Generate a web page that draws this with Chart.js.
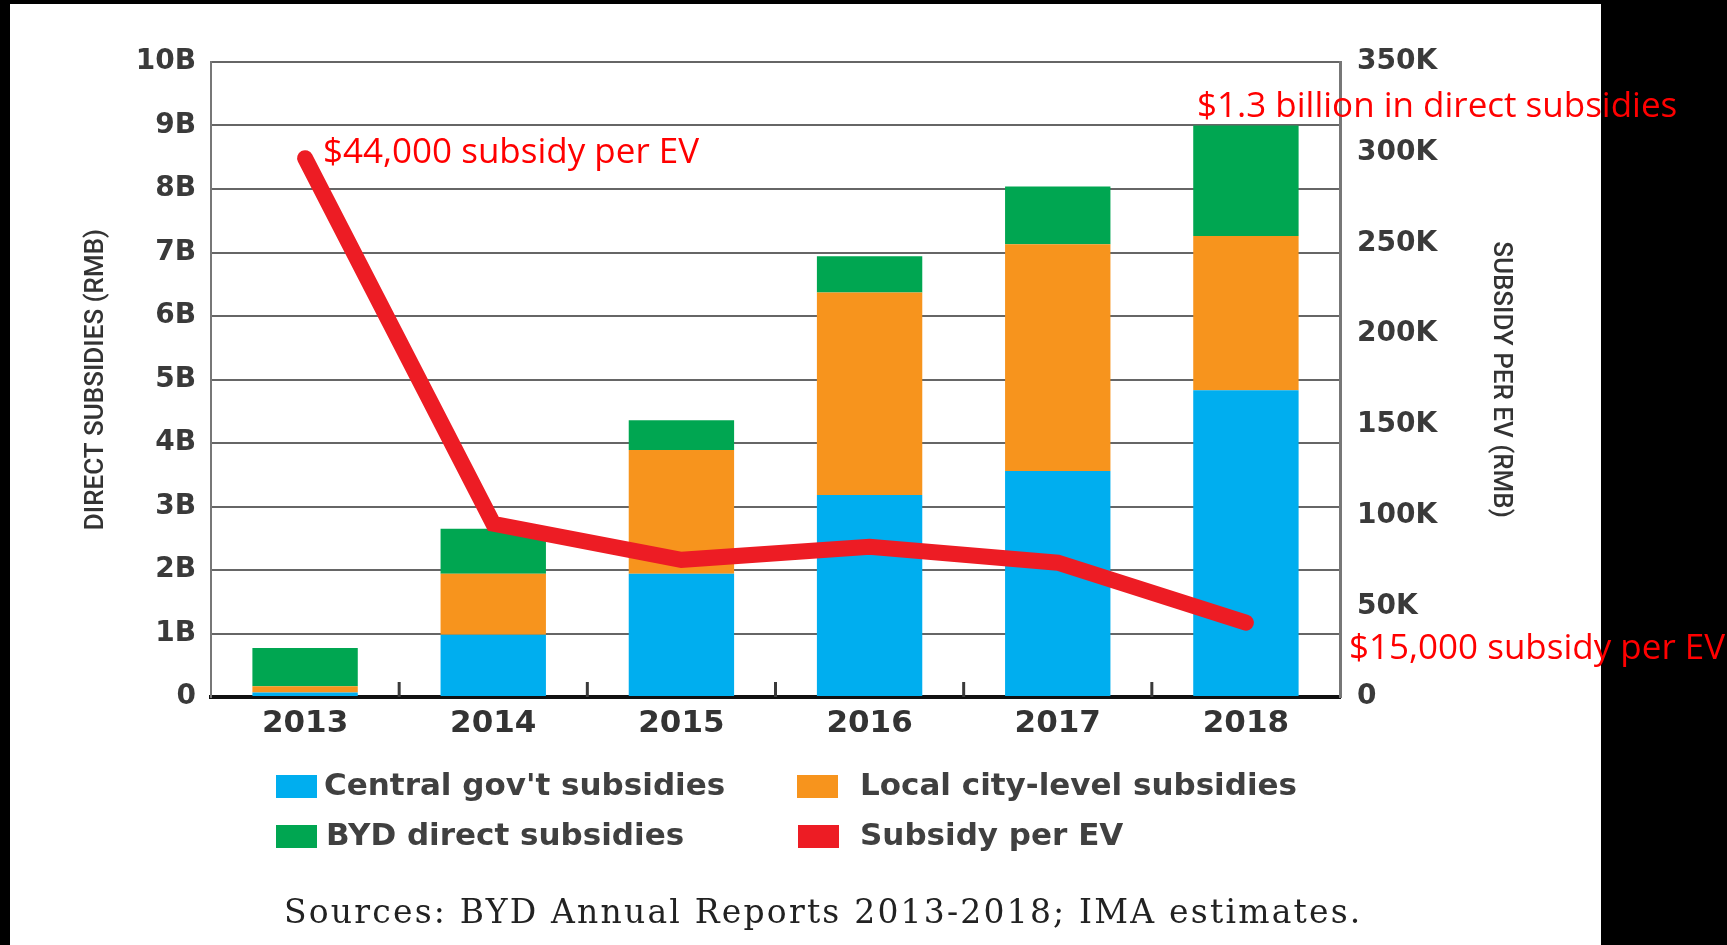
<!DOCTYPE html>
<html>
<head>
<meta charset="utf-8">
<script src="https://cdn.jsdelivr.net/npm/chart.js@4.4.0/dist/chart.umd.min.js"></script>
<style>
  body { margin: 0; background: #000; width: 1727px; height: 945px; overflow: hidden; position: relative; }
  #panel { position: absolute; left: 10px; top: 4px; width: 1591px; height: 941px; background: #fff; }
  #wrap { position: absolute; left: 0; top: 0; width: 1727px; height: 945px; }
  .note { position: absolute; color: #ff0000; font-family: 'Open Sans', sans-serif; font-size: 35px; line-height: 1; white-space: nowrap; }
  .lg-box { position: absolute; width: 41px; height: 23px; }
  .lg-text { position: absolute; font-family: 'DejaVu Sans', sans-serif; font-weight: bold; font-size: 31px; color: #404040; line-height: 1; white-space: nowrap; }
  #source { position: absolute; left: 284px; top: 895px; font-family: 'DejaVu Serif', serif; font-size: 33px; letter-spacing: 2.2px; color: #222; line-height: 1; white-space: nowrap; }
</style>
</head>
<body>
<div id="panel"></div>
<div id="wrap"><canvas id="chart"></canvas></div>
<div id="legend"></div>
<div id="source">Sources: BYD Annual Reports 2013-2018; IMA estimates.</div>
<div class="note" style="left:323px; top:132px;">$44,000 subsidy per EV</div>
<div class="note" style="left:1197px; top:86px;">$1.3 billion in direct subsidies</div>
<div class="note" style="left:1349px; top:628px;">$15,000 subsidy per EV</div>

<script>
// data
const years = ['2013', '2014', '2015', '2016', '2017', '2018'];
// direct subsidies, billions of RMB
const centralGov = [0.07, 0.98, 1.94, 3.18, 3.56, 4.83];
const localCity = [0.10, 0.96, 1.95, 3.19, 3.57, 2.43];
const bydDirect = [0.60, 0.71, 0.47, 0.57, 0.91, 1.74];
// subsidy per EV, thousands of RMB
const subsidyPerEV = [297, 95.5, 75.6, 82.8, 74, 41];

const leftTicks = ['0', '1B', '2B', '3B', '4B', '5B', '6B', '7B', '8B', '9B', '10B'];
const rightTicks = ['0', '50K', '100K', '150K', '200K', '250K', '300K', '350K'];

const BLUE = '#00aeef';
const ORANGE = '#f7941d';
const GREEN = '#00a651';
const RED = '#ed1c24';

const tickFont = { family: 'DejaVu Sans', size: 28, weight: 'bold' };
const titleFont = { family: 'Roboto', size: 26, weight: 500 };

// small tick marks between the years, on the x axis
const boundaryTicks = {
    id: 'boundaryTicks',
    afterDatasetsDraw(chart) {
        const x = chart.scales.x;
        const area = chart.chartArea;
        const ctx = chart.ctx;
        ctx.save();
        ctx.strokeStyle = '#3a3a3a';
        ctx.lineWidth = 3;
        for (let i = 1; i < years.length; i++) {
            const px = (x.getPixelForValue(i - 1) + x.getPixelForValue(i)) / 2;
            ctx.beginPath();
            ctx.moveTo(px, area.bottom);
            ctx.lineTo(px, area.bottom - 15);
            ctx.stroke();
        }
        ctx.restore();
    }
};

const chart = new Chart(document.getElementById('chart'), {
    data: {
        labels: years,
        datasets: [
            {
                type: 'line',
                label: 'Subsidy per EV',
                data: subsidyPerEV,
                yAxisID: 'y1',
                borderColor: RED,
                backgroundColor: RED,
                borderWidth: 16,
                borderCapStyle: 'round',
                pointRadius: 0,
                order: 0
            },
            { type: 'bar', label: "Central gov't subsidies", data: centralGov, backgroundColor: BLUE, stack: 's', order: 1 },
            { type: 'bar', label: 'Local city-level subsidies', data: localCity, backgroundColor: ORANGE, stack: 's', order: 1 },
            { type: 'bar', label: 'BYD direct subsidies', data: bydDirect, backgroundColor: GREEN, stack: 's', order: 1 }
        ]
    },
    options: {
        responsive: true,
        maintainAspectRatio: false,
        animation: false,
        barPercentage: 0.56,
        categoryPercentage: 1,
        layout: { padding: { left: 0, right: 0, top: 62, bottom: 200 } },
        plugins: {
            legend: { display: false },
            tooltip: { enabled: false }
        },
        scales: {
            x: {
                stacked: true,
                grid: { display: false, drawTicks: false },
                border: { color: '#111', width: 4 },
                ticks: { color: '#333', font: { family: 'DejaVu Sans', size: 31, weight: 'bold' }, padding: 8 },
                afterFit(scale) { scale.height = 48; }
            },
            y: {
                stacked: true,
                position: 'left',
                min: 0,
                max: 10,
                ticks: {
                    stepSize: 1,
                    color: '#3a3a3a',
                    font: tickFont,
                    padding: 15,
                    callback: (v, i) => leftTicks[i]
                },
                grid: { color: '#666', lineWidth: 2, drawTicks: false },
                border: { color: '#777', width: 2 },
                title: { display: true, text: 'DIRECT SUBSIDIES (RMB)', color: '#333', font: titleFont, padding: { top: 81, bottom: 0 } },
                afterFit(scale) { scale.width = 211; }
            },
            y1: {
                position: 'right',
                min: 0,
                max: 350,
                ticks: {
                    stepSize: 50,
                    color: '#3a3a3a',
                    font: tickFont,
                    padding: 17,
                    callback: (v, i) => rightTicks[i]
                },
                grid: { drawOnChartArea: false, drawTicks: false },
                border: { color: '#777', width: 3 },
                title: { display: true, text: 'SUBSIDY PER EV (RMB)', color: '#333', font: titleFont, padding: { top: 211, bottom: 0 } },
                afterFit(scale) { scale.width = 387; }
            }
        }
    },
    plugins: [boundaryTicks]
});

// legend in two rows, like the original
const legendItems = [
    { label: "Central gov't subsidies", color: BLUE, box: 276, text: 324, y: 786 },
    { label: 'Local city-level subsidies', color: ORANGE, box: 797, text: 860, y: 786 },
    { label: 'BYD direct subsidies', color: GREEN, box: 276, text: 326, y: 836 },
    { label: 'Subsidy per EV', color: RED, box: 798, text: 860, y: 836 }
];
const legend = document.getElementById('legend');
legendItems.forEach(item => {
    const b = document.createElement('div');
    b.className = 'lg-box';
    b.style.left = item.box + 'px';
    b.style.top = (item.y - 11) + 'px';
    b.style.background = item.color;
    legend.appendChild(b);
    const t = document.createElement('div');
    t.className = 'lg-text';
    t.style.left = item.text + 'px';
    t.style.top = (item.y - 17) + 'px';
    t.textContent = item.label;
    legend.appendChild(t);
});
</script>
</body>
</html>
